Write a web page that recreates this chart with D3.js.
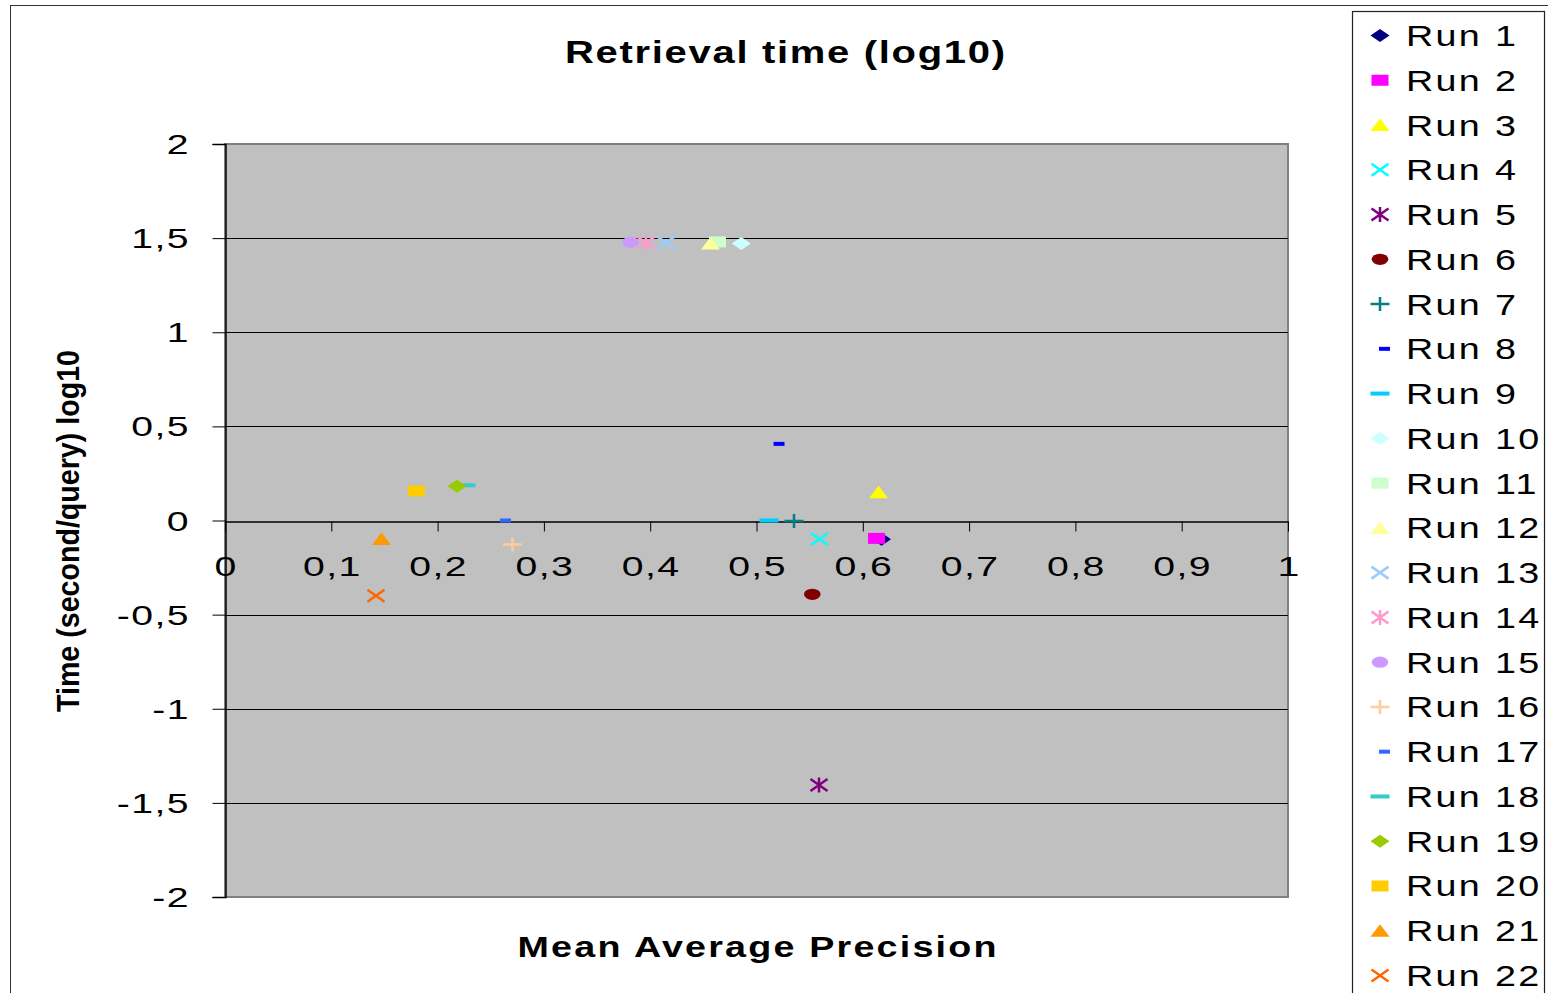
<!DOCTYPE html>
<html>
<head>
<meta charset="utf-8">
<script src="https://cdn.jsdelivr.net/npm/d3@7"></script>
<style>
  html, body { margin: 0; padding: 0; background: #fff; }
  svg { display: block; font-family: "Liberation Sans", Arial, sans-serif; }
</style>
</head>
<body>
<svg id="chart" width="1548" height="993"></svg>
<script>
// Series: one point per run (Mean Average Precision, log10 retrieval time)
const runNames = ["Run 1","Run 2","Run 3","Run 4","Run 5","Run 6","Run 7","Run 8","Run 9","Run 10","Run 11",
                  "Run 12","Run 13","Run 14","Run 15","Run 16","Run 17","Run 18","Run 19","Run 20","Run 21","Run 22"];
const mapValues = [0.6176, 0.6129, 0.6148, 0.5593, 0.5588, 0.5525, 0.5353, 0.5212, 0.5118, 0.4857, 0.4633,
                   0.4567, 0.4149, 0.3960, 0.3815, 0.2705, 0.2639, 0.2267, 0.2183, 0.1800, 0.1472, 0.1420];
const timeValues = [-0.100, -0.095, 0.150, -0.098, -1.405, -0.392, -0.002, 0.407, 0.000, 1.472, 1.480,
                    1.471, 1.476, 1.475, 1.478, -0.127, 0.000, 0.187, 0.182, 0.157, -0.098, -0.400];
const runColors = ["#000080","#FF00FF","#FFFF00","#00FFFF","#800080","#800000","#008080","#0000FF","#00CCFF","#CCFFFF","#CCFFCC",
                   "#FFFF99","#99CCFF","#FF99CC","#CC99FF","#FFCC99","#3366FF","#33CCCC","#99CC00","#FFCC00","#FF9900","#FF6600"];
const runShapes = ["diamond","square","triangle","x","star","circle","plus","dashShort","dashLong","diamond","square",
                   "triangle","x","star","circle","plus","dashShort","dashLong","diamond","square","triangle","x"];

const xTicks = [0, 0.1, 0.2, 0.3, 0.4, 0.5, 0.6, 0.7, 0.8, 0.9, 1];
const yTicks = [-2, -1.5, -1, -0.5, 0, 0.5, 1, 1.5, 2];
const tickLabel = v => String(v).replace(".", ",");

const titleText = "Retrieval time (log10)";
const xTitle = "Mean Average Precision";
const yTitle = "Time (second/query) log10";

const svg = d3.select("#chart");
const plot = { left: 225, right: 1288, top: 144, bottom: 897 };

const x = d3.scaleLinear().domain([0, 1]).range([plot.left, plot.right]);
const y = d3.scaleLinear().domain([-2, 2]).range([plot.bottom, plot.top]);

// outer chart frame
svg.append("rect").attr("x", 10.5).attr("y", 5.5).attr("width", 1560).attr("height", 1000)
  .attr("fill", "#fff").attr("stroke", "#333").attr("stroke-width", 1);

// plot area
svg.append("rect").attr("x", plot.left).attr("y", plot.top)
  .attr("width", plot.right - plot.left).attr("height", plot.bottom - plot.top)
  .attr("fill", "#C0C0C0").attr("stroke", "#808080").attr("stroke-width", 2);

// horizontal gridlines
svg.append("g").selectAll("line").data(yTicks.filter(v => v !== 0 && Math.abs(v) !== 2)).join("line")
  .attr("x1", plot.left).attr("x2", plot.right)
  .attr("y1", d => Math.round(y(d)) + 0.5).attr("y2", d => Math.round(y(d)) + 0.5)
  .attr("stroke", "#000").attr("stroke-width", 1);

// y axis on the left
const yAxis = svg.append("g").attr("transform", `translate(${plot.left + 0.5},0)`)
  .call(d3.axisLeft(y).tickValues(yTicks).tickSize(13).tickFormat(""));
yAxis.select(".domain").attr("stroke", "#000").attr("stroke-width", 1.5);
yAxis.selectAll(".tick line").attr("stroke", "#000").attr("stroke-width", 1);

// x axis crossing at y = 0
const xAxis = svg.append("g").attr("transform", `translate(0,${Math.round(y(0)) + 0.5})`)
  .call(d3.axisBottom(x).tickValues(xTicks).tickSize(10).tickFormat("").tickSizeOuter(0));
xAxis.select(".domain").attr("stroke", "#000").attr("stroke-width", 1.5);
xAxis.selectAll(".tick line").attr("stroke", "#000").attr("stroke-width", 1);

// widened text helper (labels are drawn slightly stretched horizontally)
function wideText(g, tx, ty, str, opts) {
  const t = g.append("text")
    .attr("transform", `translate(${tx},${ty}) scale(${opts.sx || 1},1)`)
    .attr("text-anchor", opts.anchor || "start")
    .attr("font-size", opts.size)
    .attr("font-weight", opts.weight || "normal")
    .attr("fill", "#000")
    .text(str);
  if (opts.spacing) t.attr("letter-spacing", opts.spacing);
  if (opts.len) t.attr("textLength", opts.len).attr("lengthAdjust", opts.adjust || "spacing");
  return t;
}

const labels = svg.append("g");
yTicks.forEach(v => wideText(labels, 190, y(v) + 10, tickLabel(v), { size: 28, sx: 1.4, spacing: 1, anchor: "end" }));
xTicks.forEach(v => wideText(labels, x(v) + 1, 576, tickLabel(v), { size: 28, sx: 1.4, spacing: 1, anchor: "middle" }));

// titles
wideText(labels, 785, 63, titleText, { size: 32, weight: "bold", sx: 1.25, anchor: "middle", len: 440 / 1.25 });
wideText(labels, 757, 957, xTitle, { size: 29, weight: "bold", sx: 1.3, anchor: "middle", len: 479 / 1.3 });
labels.append("text")
  .attr("transform", "translate(79,531) rotate(-90)")
  .attr("text-anchor", "middle").attr("font-size", 31).attr("font-weight", "bold")
  .attr("textLength", 362).attr("lengthAdjust", "spacingAndGlyphs")
  .text(yTitle);

// marker shapes, sized in a box (w x h) centred on 0,0
function markerPath(shape) {
  switch (shape) {
    case "diamond": return "M-9.5,0L0,-6.5L9.5,0L0,6.5Z";
    case "square": return "M-8.5,-5.5H8.5V5.5H-8.5Z";
    case "triangle": return "M-9.5,6L0,-6.5L9.5,6Z";
    case "x": return "M-8.5,-6L8.5,6M-8.5,6L8.5,-6";
    case "star": return "M-8.5,-6L8.5,6M-8.5,6L8.5,-6M0,-7.5V7.5";
    case "plus": return "M-9.5,0H9.5M0,-7V7";
    case "dashShort": return "M-5.5,-2H5.5V2H-5.5Z";
    case "dashLong": return "M-9.5,-2H9.5V2H-9.5Z";
    default: return "";
  }
}
function drawMarker(g, shape, color, cx, cy) {
  if (shape === "circle") {
    g.append("ellipse").attr("cx", cx).attr("cy", cy).attr("rx", 8.3).attr("ry", 5.6).attr("fill", color);
    return;
  }
  const stroked = shape === "x" || shape === "star" || shape === "plus";
  g.append("path").attr("transform", `translate(${cx},${cy})`).attr("d", markerPath(shape))
    .attr("fill", stroked ? "none" : color)
    .attr("stroke", stroked ? color : "none")
    .attr("stroke-width", stroked ? 2.5 : 0);
}

const points = svg.append("g");
runNames.forEach((name, i) => drawMarker(points, runShapes[i], runColors[i], x(mapValues[i]), y(timeValues[i])));

// legend
const legend = svg.append("g");
legend.append("rect").attr("x", 1352.5).attr("y", 11.5).attr("width", 192).attr("height", 1000)
  .attr("fill", "#fff").attr("stroke", "#222").attr("stroke-width", 1.2);
const legendY = d3.scaleLinear().domain([0, runNames.length - 1]).range([35.5, 975.5]);
runNames.forEach((name, i) => {
  const cy = legendY(i);
  const cx = runShapes[i] === "dashShort" ? 1384.5 : 1380;
  drawMarker(legend, runShapes[i], runColors[i], cx, cy);
  wideText(legend, 1406, cy + 10.5, name, { size: 29, sx: 1.3, spacing: 1.8 });
});
</script>
</body>
</html>
